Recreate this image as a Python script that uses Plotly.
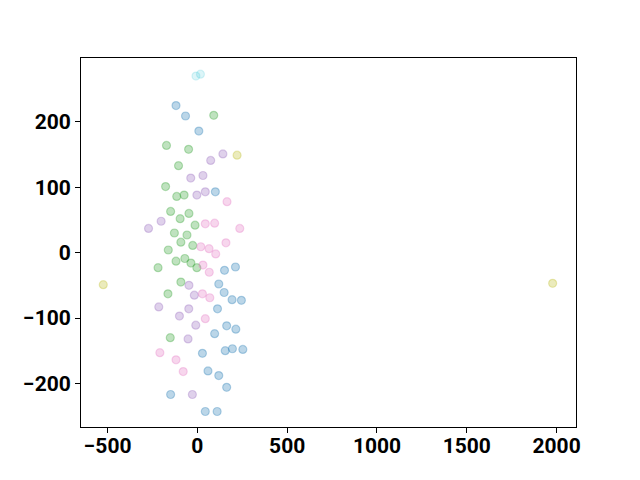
import plotly.graph_objects as go

blue_x = [-119, -66, 8, 100, 151, 212, 119, 149, 193, 245, 112, 163, 214, 96, 28, 155, 195, 253, 59, 119, 163, -149, 44, 110]
blue_y = [225, 209, 186, 93, -27, -22, -48, -61, -72, -73, -86, -112, -117, -124, -154, -150, -147, -148, -181, -188, -206, -217, -243, -243]

green_x = [91, -172, -49, -105, -177, -115, -74, -149, -47, -96, -13, -128, -58, -92, -26, -162, -119, -70, -36, -3, -219, -92, -164, -151]
green_y = [210, 164, 158, 133, 101, 86, 88, 63, 60, 52, 42, 30, 27, 16, 11, 4, -13, -9, -16, -23, -23, -45, -63, -130]

purple_x = [142, 74, -37, 31, 44, -3, -202, -272, -47, -17, -215, -48, -100, -9, -52, -28]
purple_y = [151, 141, 114, 118, 93, 88, 48, 37, -50, -65, -83, -86, -97, -111, -132, -217]

pink_x = [165, 44, 96, 236, 159, 19, 65, 102, 31, 66, 28, 69, 44, -209, -119, -79]
pink_y = [78, 44, 45, 37, 15, 9, 6, -2, -19, -30, -63, -69, -101, -153, -164, -182]

olive_x = [221, -524, 1978]
olive_y = [149, -49, -47]

cyan_x = [-8, 17]
cyan_y = [270, 273]

series = [
    (blue_x, blue_y, (31, 119, 180), 0.3),
    (green_x, green_y, (44, 160, 44), 0.3),
    (purple_x, purple_y, (148, 103, 189), 0.3),
    (pink_x, pink_y, (227, 119, 194), 0.3),
    (olive_x, olive_y, (188, 189, 34), 0.3),
    (cyan_x, cyan_y, (23, 190, 207), 0.15),
]

fig = go.Figure()
for xs, ys, (r, g, b), a in series:
    fig.add_trace(go.Scatter(
        x=xs, y=ys, mode="markers",
        marker=dict(size=8, color=f"rgba({r},{g},{b},{a})",
                    line=dict(width=1.2, color=f"rgba({r},{g},{b},{a})")),
        showlegend=False,
    ))

axis_common = dict(
    showgrid=False, zeroline=False, showline=True, mirror=True,
    linecolor="black", linewidth=1, ticks="outside", ticklen=5,
    tickcolor="black", tickwidth=1,
    tickfont=dict(family="Roboto", size=21, color="black", weight=700),
)
fig.update_xaxes(range=[-648, 2108], tickvals=[-500, 0, 500, 1000, 1500, 2000],
                 ticktext=["\u2212500", "0", "500", "1000", "1500", "2000"],
                 ticklabelstandoff=-5, **axis_common)
fig.update_yaxes(range=[-266.7, 297.7], tickvals=[-200, -100, 0, 100, 200],
                 ticktext=["\u2212200", "\u2212100", "0", "100", "200"], **axis_common)

fig.update_layout(
    width=624, height=464,
    margin=dict(l=73, r=56, t=50, b=45, autoexpand=False),
    plot_bgcolor="white", paper_bgcolor="white",
)
fig.write_html("out.html")
